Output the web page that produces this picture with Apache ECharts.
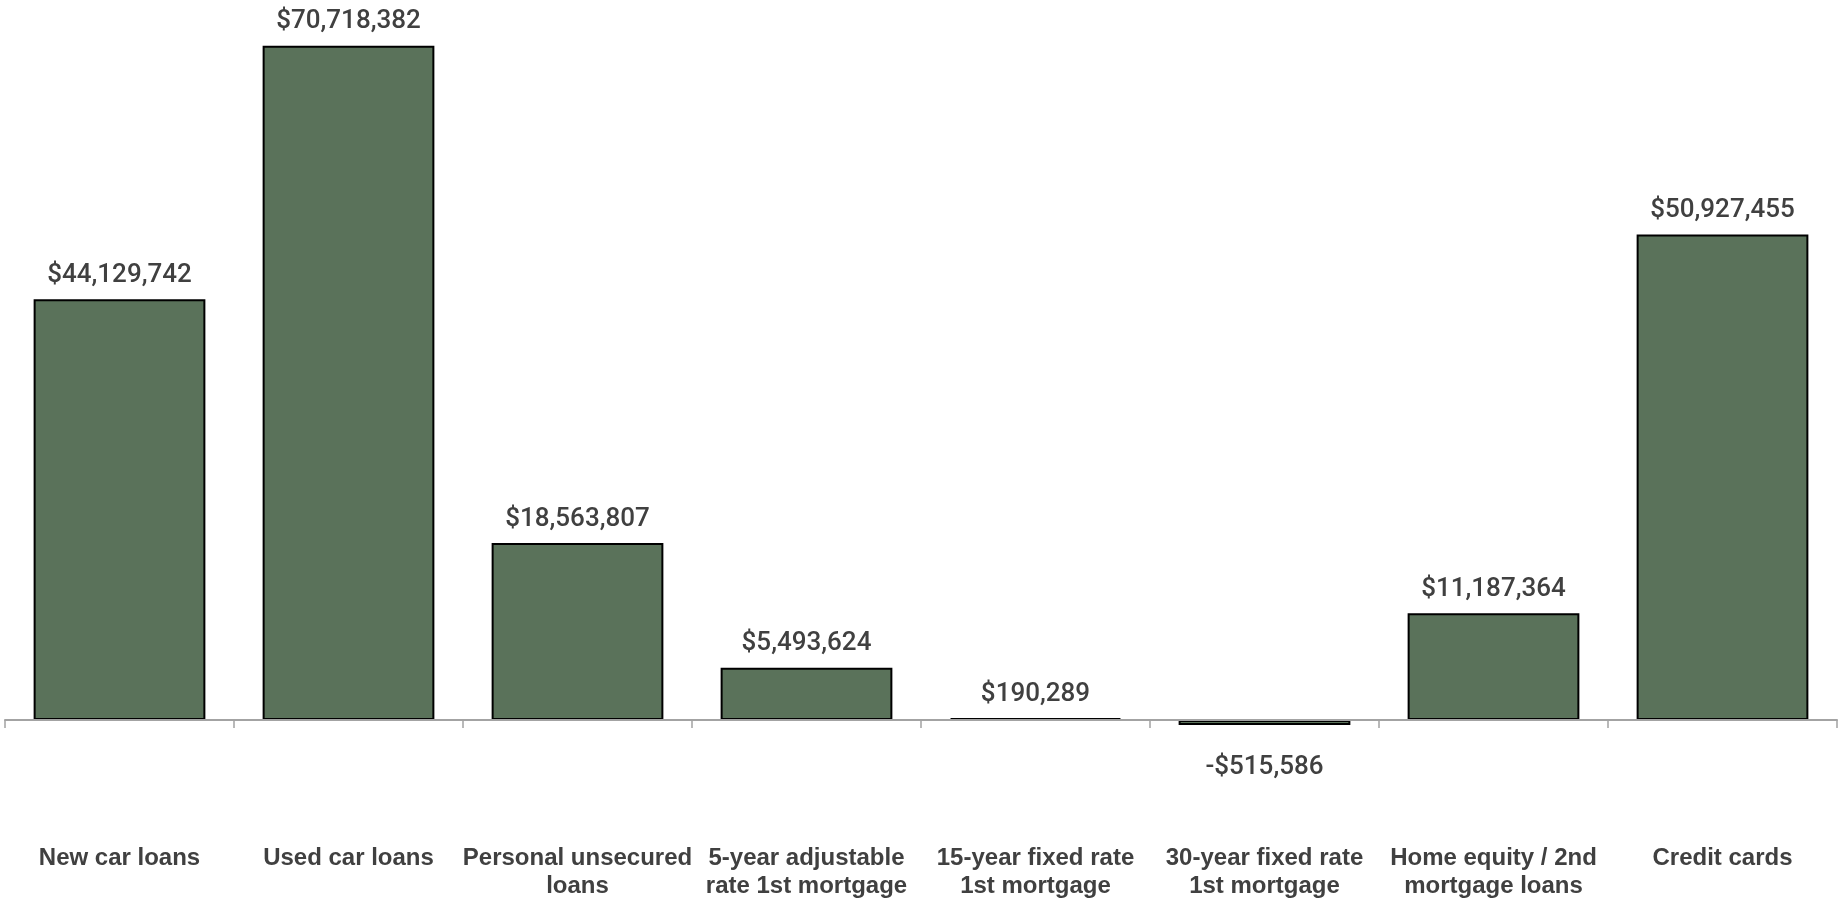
<!DOCTYPE html>
<html>
<head>
<meta charset="utf-8">
<title>Loan balances by product</title>
<script src="https://cdn.jsdelivr.net/npm/echarts@6/dist/echarts.min.js"></script>
<style>
  html, body { margin: 0; padding: 0; background: #ffffff; }
  #chart { width: 1839px; height: 898px; }
</style>
</head>
<body>
<div id="chart"></div>
<script>
// Loan product categories (line breaks where the axis label wraps)
const categories = [
  'New car loans',
  'Used car loans',
  'Personal unsecured\nloans',
  '5-year adjustable\nrate 1st mortgage',
  '15-year fixed rate\n1st mortgage',
  '30-year fixed rate\n1st mortgage',
  'Home equity / 2nd\nmortgage loans',
  'Credit cards'
];

// Dollar amount per product
const amounts = [44129742, 70718382, 18563807, 5493624, 190289, -515586, 11187364, 50927455];

// Value-axis range
const yMin = -12000000;
const yMax = 75000000;

function fmtDollar(v) {
  const s = '$' + Math.abs(v).toLocaleString('en-US');
  return v < 0 ? '-' + s : s;
}

const chart = echarts.init(document.getElementById('chart'), null, { renderer: 'canvas' });

const barData = amounts.map(v => {
  const item = { value: v };
  if (v < 0) {
    item.label = { position: 'bottom', distance: 30 };
  }
  return item;
});

chart.setOption({
  animation: false,
  backgroundColor: '#ffffff',
  grid: { left: 5, right: 2, top: 5, height: 829.4, containLabel: false, outerBoundsMode: 'none' },
  xAxis: [
    {
      // category names along the bottom edge of the plot
      type: 'category',
      data: categories,
      position: 'bottom',
      axisLine: { show: false, onZero: false },
      axisTick: { show: false },
      axisLabel: {
        margin: 10,
        interval: 0,
        verticalAlign: 'top',
        fontFamily: '"Liberation Sans", Arial, sans-serif',
        fontWeight: 'bold',
        fontSize: 24,
        lineHeight: 28,
        color: '#404040'
      },
      splitLine: { show: false }
    },
    {
      // baseline at zero with tick marks between categories
      type: 'category',
      data: categories,
      position: 'bottom',
      z: 5,
      axisLine: { show: true, onZero: true, lineStyle: { color: '#a3a3a3', width: 2 } },
      axisTick: { show: true, length: 8, lineStyle: { color: '#a3a3a3', width: 1.5 } },
      axisLabel: { show: false },
      splitLine: { show: false }
    }
  ],
  yAxis: {
    type: 'value',
    min: yMin,
    max: yMax,
    show: false,
    splitLine: { show: false }
  },
  series: [{
    type: 'bar',
    xAxisIndex: 0,
    data: barData,
    barCategoryGap: '25%',
    itemStyle: { color: '#5a725a', borderColor: '#000000', borderWidth: 2 },
    label: {
      show: true,
      position: 'top',
      distance: 11,
      fontFamily: 'Roboto, sans-serif',
      fontWeight: 500,
      fontSize: 26,
      color: '#404040',
      formatter: p => fmtDollar(p.value)
    }
  }]
});
</script>
</body>
</html>
